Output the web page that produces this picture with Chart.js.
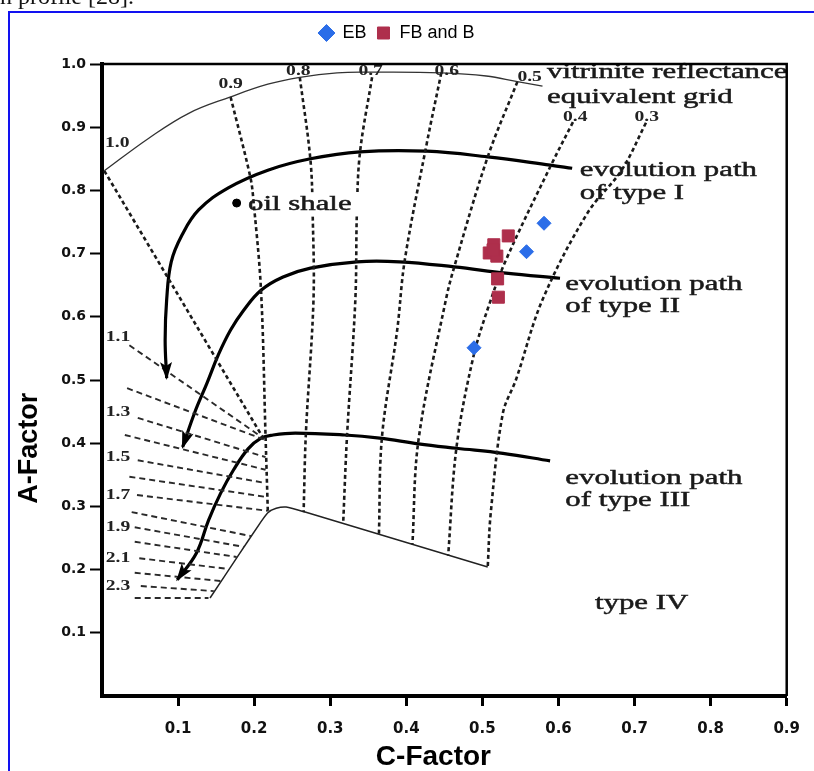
<!DOCTYPE html>
<html>
<head>
<meta charset="utf-8">
<script src="https://cdn.jsdelivr.net/npm/chart.js@4.4.1/dist/chart.umd.min.js"></script>
<style>
    html, body { margin: 0; padding: 0; background: #fff; }
    canvas { display: block; }
</style>
</head>
<body>
<canvas id="vkChart" width="814" height="771"></canvas>
<script>
// axis tick labels
const xTickLabels = ['', '0.1', '0.2', '0.3', '0.4', '0.5', '0.6', '0.7', '0.8', '0.9'];
const yTickLabels = ['', '0.1', '0.2', '0.3', '0.4', '0.5', '0.6', '0.7', '0.8', '0.9', '1.0'];

// samples (C-Factor, A-Factor)
const ebC = [0.581, 0.558, 0.489];
const ebA = [0.748, 0.703, 0.551];
const fbC = [0.534, 0.515, 0.509, 0.519, 0.514, 0.520, 0.521];
const fbA = [0.728, 0.714, 0.701, 0.696, 0.706, 0.660, 0.631];

const oilShaleC = [0.177];
const oilShaleA = [0.780];

// background diagram, [C, A] pairs
const reflectanceArc = [[0.003, 0.831], [0.062, 0.883], [0.114, 0.922], [0.169, 0.948], [0.218, 0.968], [0.260, 0.979], [0.309, 0.986], [0.355, 0.987], [0.446, 0.986], [0.505, 0.981], [0.546, 0.972], [0.579, 0.965]];

const iso10 = [[0.003, 0.831], [0.212, 0.408]];
const iso09 = [[0.169, 0.948], [0.195, 0.821], [0.199, 0.785], [0.209, 0.642], [0.215, 0.410], [0.218, 0.291]];
const iso08 = [[0.260, 0.979], [0.274, 0.848], [0.277, 0.758], [0.278, 0.627], [0.268, 0.416], [0.265, 0.291]];
const iso07 = [[0.355, 0.979], [0.339, 0.859], [0.335, 0.764], [0.333, 0.627], [0.322, 0.410], [0.317, 0.273]];
const iso06 = [[0.446, 0.986], [0.427, 0.875], [0.398, 0.690], [0.388, 0.579], [0.368, 0.410], [0.364, 0.256]];
const iso05 = [[0.546, 0.972], [0.507, 0.853], [0.463, 0.679], [0.452, 0.627], [0.416, 0.405], [0.408, 0.240]];
const iso04 = [[0.619, 0.908], [0.589, 0.837], [0.531, 0.690], [0.508, 0.616], [0.488, 0.536], [0.466, 0.394], [0.455, 0.222]];
const iso03 = [[0.715, 0.907], [0.683, 0.832], [0.638, 0.764], [0.579, 0.627], [0.544, 0.500], [0.527, 0.448], [0.511, 0.290], [0.507, 0.204]];

// Ro 1.1 .. 2.4 hatching
const hatchStartC = [0.036, 0.033, 0.047, 0.030, 0.047, 0.036, 0.046, 0.039, 0.043, 0.043, 0.049, 0.043, 0.051, 0.043];
const hatchStartA = [0.555, 0.487, 0.440, 0.413, 0.373, 0.347, 0.318, 0.291, 0.267, 0.244, 0.218, 0.195, 0.174, 0.155];
const hatchEndC = [0.212, 0.215, 0.215, 0.215, 0.215, 0.216, 0.218, 0.196, 0.186, 0.177, 0.166, 0.156, 0.147, 0.140];
const hatchEndA = [0.408, 0.405, 0.378, 0.358, 0.337, 0.315, 0.293, 0.253, 0.236, 0.220, 0.201, 0.182, 0.166, 0.155];

const pathI = [[0.618, 0.835], [0.589, 0.840], [0.507, 0.853], [0.427, 0.862], [0.339, 0.861], [0.274, 0.850], [0.218, 0.832], [0.166, 0.804], [0.127, 0.769], [0.105, 0.729], [0.091, 0.687], [0.085, 0.627], [0.083, 0.563], [0.085, 0.503]];
const pathII = [[0.602, 0.661], [0.531, 0.669], [0.463, 0.679], [0.391, 0.687], [0.335, 0.687], [0.274, 0.677], [0.238, 0.663], [0.209, 0.642], [0.186, 0.610], [0.169, 0.579], [0.153, 0.540], [0.138, 0.495], [0.122, 0.449], [0.106, 0.394]];
const pathIII = [[0.589, 0.372], [0.527, 0.384], [0.466, 0.392], [0.416, 0.399], [0.365, 0.408], [0.319, 0.413], [0.254, 0.416], [0.225, 0.413], [0.209, 0.408], [0.192, 0.391], [0.173, 0.358], [0.156, 0.321], [0.140, 0.278], [0.124, 0.226], [0.099, 0.184]];
const typeIVEdge = [[0.142, 0.155], [0.179, 0.222], [0.208, 0.274], [0.218, 0.290], [0.229, 0.297], [0.242, 0.299], [0.267, 0.291], [0.507, 0.204]];

// diagram texts
const noteText = ['vitrinite reflectance', 'equivalent grid', 'evolution path', 'of type I', 'evolution path', 'of type II', 'evolution path', 'of type III', 'type IV', 'oil shale'];
const noteC = [0.585, 0.585, 0.628, 0.628, 0.609, 0.609, 0.609, 0.609, 0.648, 0.192];
const noteA = [0.987, 0.948, 0.832, 0.796, 0.652, 0.616, 0.345, 0.309, 0.147, 0.778];

const gridLabelText = ['1.0', '0.9', '0.8', '0.7', '0.6', '0.5', '0.4', '0.3', '1.1', '1.3', '1.5', '1.7', '1.9', '2.1', '2.3'];
const gridLabelC = [0.004, 0.153, 0.242, 0.337, 0.437, 0.546, 0.606, 0.700, 0.005, 0.005, 0.005, 0.005, 0.005, 0.005, 0.005];
const gridLabelA = [0.875, 0.968, 0.989, 0.989, 0.989, 0.979, 0.915, 0.915, 0.568, 0.448, 0.377, 0.318, 0.267, 0.218, 0.174];

const serifFont = '"Liberation Serif", "Times New Roman", serif';
const sansFont = '"Liberation Sans", Arial, sans-serif';
const stretch = 1.4;

function pairs(list) {
    return list.map(p => ({ x: p[0], y: p[1] }));
}

function zipPoints(cs, as) {
    return cs.map((c, i) => ({ x: c, y: as[i] }));
}

// serif labels of the scanned diagram are wider than normal, so stretch them
function drawStretched(ctx, text, x, y, weight) {
    ctx.save();
    ctx.translate(x, y);
    ctx.scale(stretch, 1);
    ctx.fillText(text, 0, 0);
    if (weight) {
        ctx.lineWidth = weight;
        ctx.strokeStyle = ctx.fillStyle;
        ctx.strokeText(text, 0, 0);
    }
    ctx.restore();
}

// no tick mark at the origin
const hideFirst = c => c.index === 0 ? 'rgba(0,0,0,0)' : '#000';

const lineBase = { type: 'line', pointRadius: 0, fill: false, order: 5 };

const datasets = [
    { label: 'EB', data: zipPoints(ebC, ebA), pointStyle: 'rectRot', pointRadius: 7, backgroundColor: '#2b6de8', borderColor: '#2b6de8', borderWidth: 1, order: 0 },
    { label: 'FB and B', data: zipPoints(fbC, fbA), pointStyle: 'rect', pointRadius: 8.5, backgroundColor: '#ae2f4c', borderColor: '#ae2f4c', borderWidth: 1, order: 0 },
    { label: 'oil shale', data: zipPoints(oilShaleC, oilShaleA), pointStyle: 'circle', pointRadius: 4, backgroundColor: '#000', borderColor: '#000', order: 1 },
    { ...lineBase, label: 'grid edge', data: pairs(reflectanceArc), borderColor: '#333', borderWidth: 1.3, tension: 0.4 }
];

[iso10, iso09, iso08, iso07, iso06, iso05, iso04, iso03].forEach(function (line) {
    datasets.push({ ...lineBase, label: 'Ro', data: pairs(line), borderColor: '#1a1a1a', borderWidth: 2.6, borderDash: [4, 3], tension: 0.35 });
});

hatchStartC.forEach(function (c, i) {
    datasets.push({
        ...lineBase, label: 'Ro',
        data: [{ x: c, y: hatchStartA[i] }, { x: hatchEndC[i], y: hatchEndA[i] }],
        borderColor: '#2a2a2a', borderWidth: 1.9, borderDash: [6, 4]
    });
});

datasets.push({ ...lineBase, label: 'type IV edge', data: pairs(typeIVEdge), borderColor: '#222', borderWidth: 1.5, tension: 0.2 });

[pathI, pathII, pathIII].forEach(function (path) {
    datasets.push({ ...lineBase, label: 'path', data: pairs(path), borderColor: '#000', borderWidth: 3.2, tension: 0.4, arrowHead: true });
});

const diagramPlugin = {
    id: 'diagram',
    beforeInit(chart) {
        // leave a gap under the legend
        const fit = chart.legend.fit;
        chart.legend.fit = function () {
            fit.bind(chart.legend)();
            this.height += 12;
        };
    },
    beforeDraw(chart) {
        const ctx = chart.ctx;
        ctx.save();
        ctx.fillStyle = '#fff';
        ctx.fillRect(0, 0, chart.width, chart.height);
        ctx.fillStyle = '#111';
        ctx.font = '24px ' + serifFont;
        ctx.textBaseline = 'alphabetic';
        ctx.fillText('n profile [28].', 0, 4);
        ctx.strokeStyle = '#1212f0';
        ctx.lineWidth = 2;
        ctx.beginPath();
        ctx.moveTo(9, chart.height);
        ctx.lineTo(9, 12);
        ctx.lineTo(chart.width, 12);
        ctx.stroke();
        ctx.restore();
    },
    afterDatasetsDraw(chart) {
        const ctx = chart.ctx;
        const x = chart.scales.x;
        const y = chart.scales.y;
        ctx.save();

        chart.data.datasets.forEach(function (ds, i) {
            if (!ds.arrowHead) return;
            const pts = chart.getDatasetMeta(i).data;
            const tip = pts[pts.length - 1];
            const prev = pts[pts.length - 2];
            const ang = Math.atan2(tip.y - prev.y, tip.x - prev.x);
            ctx.save();
            ctx.translate(tip.x, tip.y);
            ctx.rotate(ang);
            ctx.beginPath();
            ctx.moveTo(2, 0);
            ctx.lineTo(-16, -6);
            ctx.lineTo(-12, 0);
            ctx.lineTo(-16, 6);
            ctx.closePath();
            ctx.fillStyle = '#000';
            ctx.fill();
            ctx.restore();
        });

        ctx.textAlign = 'left';
        ctx.textBaseline = 'middle';
        ctx.font = '22px ' + serifFont;
        noteText.forEach(function (t, i) {
            const px = x.getPixelForValue(noteC[i]);
            const py = y.getPixelForValue(noteA[i]);
            if (t === 'oil shale') {
                const w = ctx.measureText(t).width * stretch;
                ctx.fillStyle = '#fff';
                ctx.fillRect(px + 12, py - 12, w + 4, 24);
            }
            ctx.fillStyle = '#1a1a1a';
            drawStretched(ctx, t, px, py, 0.5);
        });

        ctx.font = 'bold 14px ' + serifFont;
        ctx.fillStyle = '#222';
        gridLabelText.forEach(function (t, i) {
            drawStretched(ctx, t, x.getPixelForValue(gridLabelC[i]), y.getPixelForValue(gridLabelA[i]), 0);
        });
        ctx.restore();
    },
    afterDraw(chart) {
        const ctx = chart.ctx;
        const a = chart.chartArea;
        ctx.save();
        ctx.strokeStyle = '#000';
        ctx.lineWidth = 2.5;
        ctx.beginPath();
        ctx.moveTo(a.left, a.top);
        ctx.lineTo(a.right, a.top);
        ctx.lineTo(a.right, a.bottom);
        ctx.stroke();

        ctx.fillStyle = '#000';
        ctx.textAlign = 'center';
        ctx.textBaseline = 'middle';
        ctx.font = 'bold 28px ' + sansFont;
        ctx.fillText('C-Factor', chart.scales.x.getPixelForValue(0.4356), a.bottom + 61);
        ctx.translate(a.left - 72, chart.scales.y.getPixelForValue(0.392));
        ctx.rotate(-Math.PI / 2);
        ctx.font = 'bold 27px ' + sansFont;
        ctx.fillText('A-Factor', 0, 0);
        ctx.restore();
    }
};

const chart = new Chart(document.getElementById('vkChart'), {
    type: 'scatter',
    data: { datasets: datasets },
    options: {
        responsive: false,
        animation: false,
        devicePixelRatio: 1,
        events: [],
        layout: { padding: { left: 0, right: 20, top: 14, bottom: 0 } },
        plugins: {
            tooltip: { enabled: false },
            legend: {
                position: 'top',
                labels: {
                    usePointStyle: true,
                    boxWidth: 14,
                    boxHeight: 12,
                    padding: 10,
                    color: '#000',
                    font: { family: sansFont, size: 18 },
                    filter: item => item.datasetIndex < 2
                }
            }
        },
        scales: {
            x: {
                type: 'linear',
                min: 0,
                max: 0.9,
                afterFit: scale => { scale.height = 75; },
                border: { display: true, color: '#000', width: 4 },
                grid: { drawOnChartArea: false, drawTicks: true, tickLength: 10, tickWidth: 3, tickColor: hideFirst },
                ticks: {
                    stepSize: 0.1,
                    autoSkip: false,
                    maxRotation: 0,
                    padding: 14,
                    color: '#111',
                    font: { family: '"DejaVu Sans", sans-serif', size: 15, weight: 'bold' },
                    callback: (v, i) => xTickLabels[i]
                }
            },
            y: {
                type: 'linear',
                min: 0,
                max: 1,
                afterFit: scale => { scale.width = 102; },
                border: { display: true, color: '#000', width: 4 },
                grid: { drawOnChartArea: false, drawTicks: true, tickLength: 12, tickWidth: 2, tickColor: hideFirst },
                ticks: {
                    stepSize: 0.1,
                    autoSkip: false,
                    padding: 4,
                    color: '#111',
                    font: { family: '"DejaVu Sans", sans-serif', size: 14, weight: 'bold' },
                    callback: (v, i) => yTickLabels[i]
                }
            }
        }
    },
    plugins: [diagramPlugin]
});
</script>
</body>
</html>
